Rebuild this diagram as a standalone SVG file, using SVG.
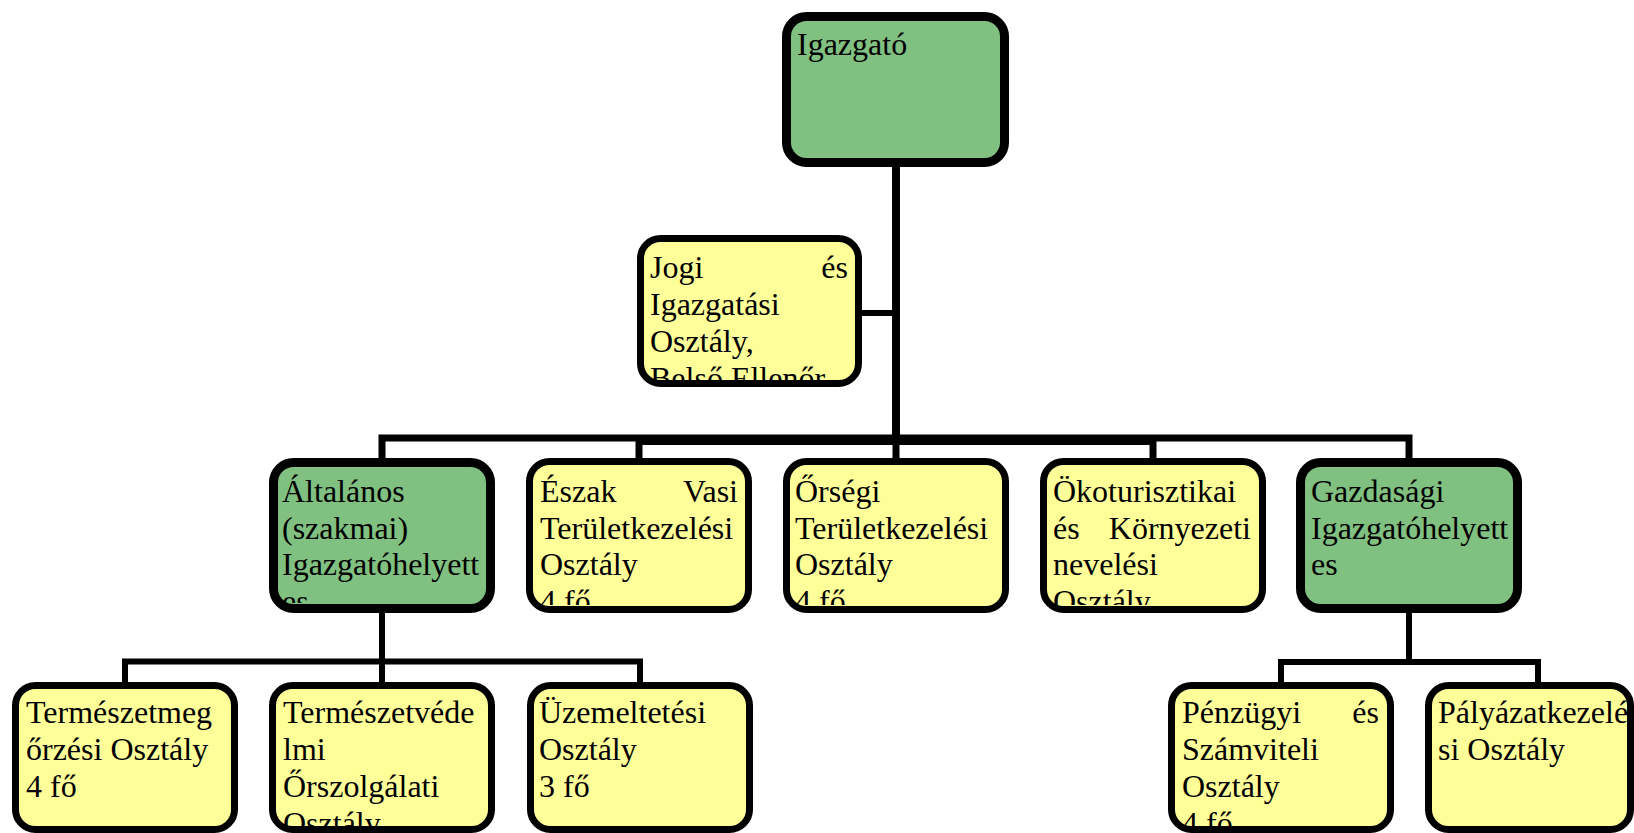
<svg xmlns="http://www.w3.org/2000/svg" width="1634" height="833" viewBox="0 0 1634 833">
<style>
.g{fill:#80C080;stroke:#000;stroke-width:9}
.y{fill:#FFFF99;stroke:#000;stroke-width:7}
.t{font-family:"Liberation Serif","Times New Roman",serif;font-size:32px;fill:#000}
.c{fill:none;stroke:#000;stroke-width:7;stroke-linejoin:miter;stroke-linecap:butt}
.c3{fill:none;stroke:#000;stroke-width:6;stroke-linejoin:miter;stroke-linecap:butt}
</style>
<defs>
<clipPath id="cJ"><rect x="643" y="241" width="213" height="139"/></clipPath>
<clipPath id="cA"><rect x="277" y="466" width="210" height="137"/></clipPath>
<clipPath id="cE"><rect x="532" y="464" width="214" height="141"/></clipPath>
<clipPath id="cO"><rect x="789" y="464" width="214" height="141"/></clipPath>
<clipPath id="cK"><rect x="1046" y="464" width="214" height="141"/></clipPath>
<clipPath id="cV"><rect x="272" y="688" width="220" height="139"/></clipPath>
<clipPath id="cP"><rect x="1171" y="688" width="220" height="139"/></clipPath>
</defs>
<g id="connectors">
<path class="c" d="M896,167 V438 H382 V460"/>
<path class="c" d="M896,167 V441.5 H639 V460"/>
<path class="c" d="M896,167 V460"/>
<path class="c" d="M896,167 V441.5 H1153 V460"/>
<path class="c" d="M896,167 V438 H1409 V460"/>
<path class="c3" d="M862,313 H896"/>
<path class="c3" d="M382,613 V661.5 H125 V684"/>
<path class="c3" d="M382,613 V684"/>
<path class="c3" d="M382,613 V661.5 H640 V684"/>
<path class="c3" d="M1409,613 V662 H1281 V684"/>
<path class="c3" d="M1409,613 V662 H1538 V684"/>
</g>
<g id="igazgato">
<rect class="g" x="786.5" y="16.5" width="218" height="146" rx="20"/>
<text class="t" x="797" y="55">Igazgató</text>
</g>
<g id="jogi">
<rect class="y" x="640.5" y="238.5" width="218" height="145" rx="20"/>
<text class="t" clip-path="url(#cJ)"><tspan x="650" y="278">Jogi</tspan><tspan x="848" y="278" text-anchor="end">és</tspan><tspan x="650" y="315">Igazgatási</tspan><tspan x="650" y="352">Osztály,</tspan><tspan x="650" y="389">Belső Ellenőr</tspan></text>
</g>
<g id="altalanos">
<rect class="g" x="273.5" y="462.5" width="217" height="146" rx="20"/>
<text class="t" clip-path="url(#cA)"><tspan x="282" y="502">Általános</tspan><tspan x="282" y="538.5">(szakmai)</tspan><tspan x="282" y="575">Igazgatóhelyett</tspan><tspan x="282" y="612">es</tspan></text>
</g>
<g id="eszak">
<rect class="y" x="529.5" y="461.5" width="219" height="148" rx="20"/>
<text class="t" clip-path="url(#cE)"><tspan x="540" y="502">Észak</tspan><tspan x="738" y="502" text-anchor="end">Vasi</tspan><tspan x="540" y="538.5">Területkezelési</tspan><tspan x="540" y="575">Osztály</tspan><tspan x="540" y="612">4 fő</tspan></text>
</g>
<g id="orsegi">
<rect class="y" x="786.5" y="461.5" width="219" height="148" rx="20"/>
<text class="t" clip-path="url(#cO)"><tspan x="795" y="502">Őrségi</tspan><tspan x="795" y="538.5">Területkezelési</tspan><tspan x="795" y="575">Osztály</tspan><tspan x="795" y="612">4 fő</tspan></text>
</g>
<g id="oko">
<rect class="y" x="1043.5" y="461.5" width="219" height="148" rx="20"/>
<text class="t" clip-path="url(#cK)"><tspan x="1053" y="502">Ökoturisztikai</tspan><tspan x="1053" y="538.5">és</tspan><tspan x="1251" y="538.5" text-anchor="end">Környezeti</tspan><tspan x="1053" y="575">nevelési</tspan><tspan x="1053" y="612">Osztály</tspan></text>
</g>
<g id="gazdasagi">
<rect class="g" x="1300.5" y="462.5" width="217" height="146" rx="20"/>
<text class="t"><tspan x="1311" y="502">Gazdasági</tspan><tspan x="1311" y="538.5">Igazgatóhelyett</tspan><tspan x="1311" y="575">es</tspan></text>
</g>
<g id="termeszetmeg">
<rect class="y" x="15.5" y="685.5" width="219" height="144" rx="20"/>
<text class="t"><tspan x="26" y="723">Természetmeg</tspan><tspan x="26" y="760">őrzési Osztály</tspan><tspan x="26" y="797">4 fő</tspan></text>
</g>
<g id="termeszetved">
<rect class="y" x="272.5" y="685.5" width="219" height="144" rx="20"/>
<text class="t" clip-path="url(#cV)"><tspan x="283" y="723">Természetvéde</tspan><tspan x="283" y="760">lmi</tspan><tspan x="283" y="797">Őrszolgálati</tspan><tspan x="283" y="834">Osztály</tspan></text>
</g>
<g id="uzemeltetesi">
<rect class="y" x="530.5" y="685.5" width="219" height="144" rx="20"/>
<text class="t"><tspan x="539" y="723">Üzemeltetési</tspan><tspan x="539" y="760">Osztály</tspan><tspan x="539" y="797">3 fő</tspan></text>
</g>
<g id="penzugyi">
<rect class="y" x="1171.5" y="685.5" width="219" height="144" rx="20"/>
<text class="t" clip-path="url(#cP)"><tspan x="1182" y="723">Pénzügyi</tspan><tspan x="1379" y="723" text-anchor="end">és</tspan><tspan x="1182" y="760">Számviteli</tspan><tspan x="1182" y="797">Osztály</tspan><tspan x="1182" y="834">4 fő</tspan></text>
</g>
<g id="palyazat">
<rect class="y" x="1428.5" y="685.5" width="202" height="144" rx="20"/>
<text class="t"><tspan x="1438" y="723">Pályázatkezelé</tspan><tspan x="1438" y="760">si Osztály</tspan></text>
</g>
</svg>
